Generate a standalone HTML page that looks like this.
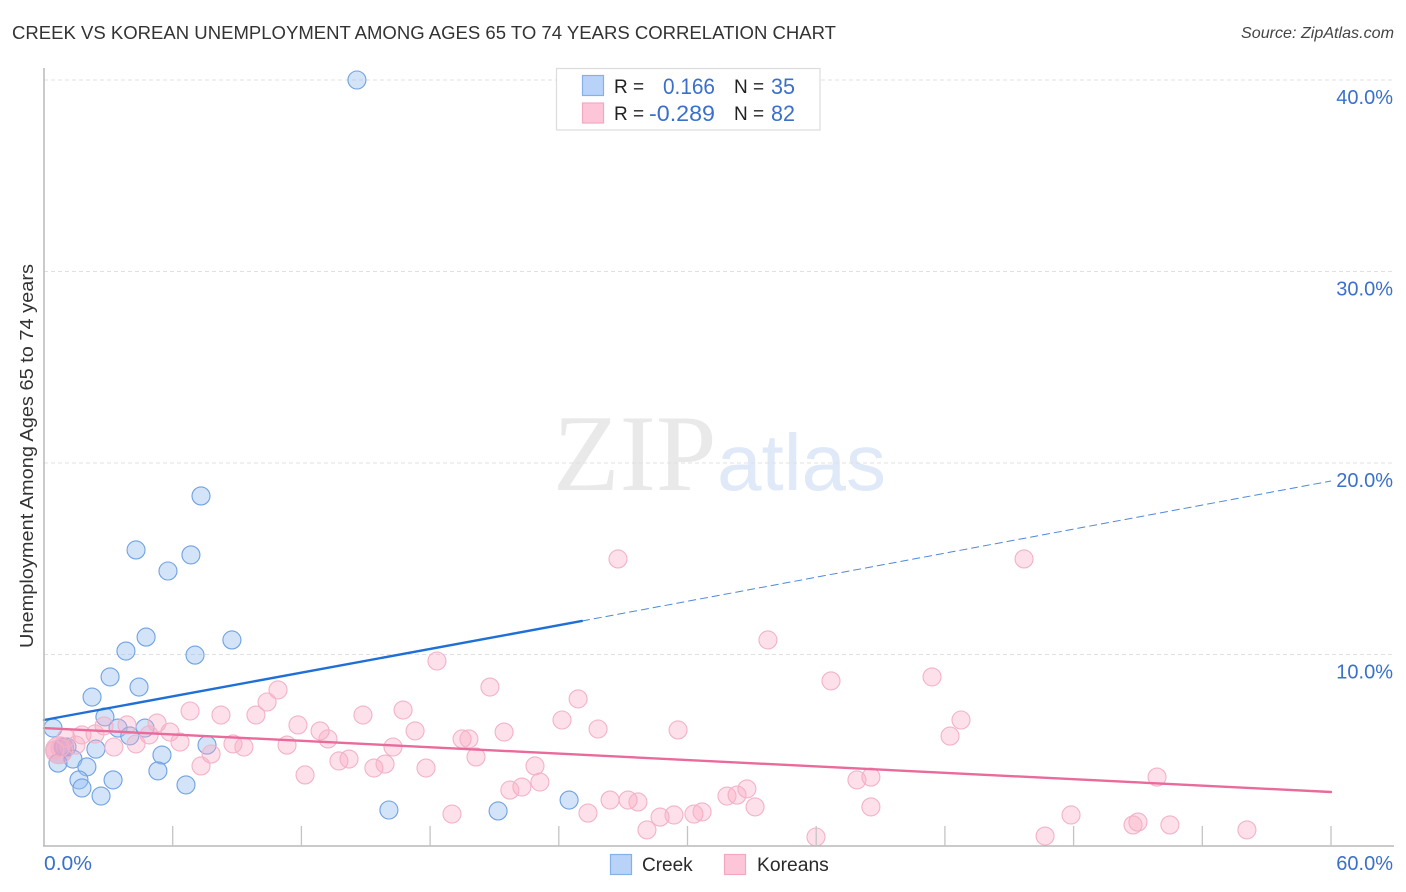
<!DOCTYPE html>
<html lang="en">
<head>
<meta charset="utf-8">
<title>Creek vs Korean Unemployment Correlation Chart</title>
<style>
html,body{margin:0;padding:0;background:#fff;}
body{width:1406px;height:892px;overflow:hidden;}
svg{display:block;font-family:"Liberation Sans",sans-serif;}
</style>
</head>
<body>
<svg id="chart" xmlns="http://www.w3.org/2000/svg" width="1406" height="892" viewBox="0 0 1406 892">
  <text x="12" y="39" font-size="18" fill="#333" textLength="824" lengthAdjust="spacingAndGlyphs">CREEK VS KOREAN UNEMPLOYMENT AMONG AGES 65 TO 74 YEARS CORRELATION CHART</text>
  <text x="1394" y="38" font-size="16" font-style="italic" fill="#444" text-anchor="end" textLength="153" lengthAdjust="spacingAndGlyphs">Source: ZipAtlas.com</text>
  <g id="watermark">
    <text x="553" y="490" font-family="'Liberation Serif',serif" font-size="109" fill="#e9e9e9">ZIP</text>
    <text x="717" y="490" font-size="80" fill="#dfe9f7">atlas</text>
  </g>
  <g id="grid"></g>
  <g id="creek-points"></g>
  <g id="korean-points"></g>
  <g id="trends"></g>
  <g id="axes"></g>
  <g id="tick-labels"></g>
  <text transform="translate(33,456) rotate(-90)" font-size="18.5" fill="#333" text-anchor="middle" textLength="384" lengthAdjust="spacingAndGlyphs">Unemployment Among Ages 65 to 74 years</text>

  <g>
    <rect x="556.5" y="68.5" width="263.5" height="61.5" fill="#fff" stroke="#dcdcdc" stroke-width="1.2"/>
    <rect x="582.5" y="75.5" width="21" height="20" fill="#b9d3f8" stroke="#86b0ea" stroke-width="1.2"/>
    <text x="614" y="93" font-size="19" fill="#222">R =</text>
    <text x="715" y="94" font-size="22" fill="#3a70cc" text-anchor="end" textLength="52" lengthAdjust="spacingAndGlyphs">0.166</text>
    <text x="734" y="93" font-size="19" fill="#222">N =</text>
    <text x="771" y="94" font-size="22" fill="#3a70cc" textLength="24" lengthAdjust="spacingAndGlyphs">35</text>
    <rect x="582.5" y="103" width="21" height="20" fill="#fdc6d8" stroke="#f3a8c1" stroke-width="1.2"/>
    <text x="614" y="120" font-size="19" fill="#222">R =</text>
    <text x="715" y="121" font-size="22" fill="#3a70cc" text-anchor="end" textLength="66" lengthAdjust="spacingAndGlyphs">-0.289</text>
    <text x="734" y="120" font-size="19" fill="#222">N =</text>
    <text x="771" y="121" font-size="22" fill="#3a70cc" textLength="24" lengthAdjust="spacingAndGlyphs">82</text>
  </g>

  <g>
    <rect x="610.5" y="854.5" width="21" height="20" fill="#b9d3f8" stroke="#86b0ea" stroke-width="1.2"/>
    <text x="642" y="871" font-size="19" fill="#2a2a2a">Creek</text>
    <rect x="724.5" y="854.5" width="21" height="20" fill="#fdc6d8" stroke="#f3a8c1" stroke-width="1.2"/>
    <text x="757" y="871" font-size="19.3" fill="#2a2a2a">Koreans</text>
  </g>
</svg>
<script>
var creekX = [14.59,7.32,4.29,6.85,5.78,4.76,8.76,3.82,7.04,3.08,4.43,2.24,2.84,0.42,3.45,4.71,4.0,7.6,0.95,0.89,1.07,2.42,5.5,1.35,0.65,2.0,5.31,1.63,3.22,6.62,1.77,2.66,16.08,21.17,24.48];
var creekY = [40.0,18.28,15.46,15.2,14.36,10.91,10.76,10.18,9.97,8.83,8.3,7.78,6.74,6.16,6.16,6.16,5.75,5.27,5.17,5.17,5.17,5.06,4.75,4.54,4.33,4.13,3.92,3.45,3.45,3.19,3.03,2.61,1.88,1.83,2.4];
var koreanX = [26.76,45.69,33.75,18.32,20.79,10.91,36.69,41.40,24.90,10.40,6.81,16.74,8.25,9.88,14.87,24.15,42.75,3.87,11.84,5.27,2.80,17.30,25.83,29.56,21.45,12.87,5.87,2.38,1.77,4.90,6.34,13.24,42.24,19.49,19.81,8.81,11.33,4.29,3.26,9.32,16.27,1.49,1.03,0.75,0.51,7.79,20.14,13.75,14.22,7.32,15.38,15.90,17.81,22.89,12.17,38.55,37.90,51.89,32.77,23.12,22.28,21.72,32.31,31.84,33.15,26.39,27.23,27.69,38.55,25.36,19.02,28.72,29.37,30.30,30.68,47.88,51.0,50.77,52.49,28.11,56.08,35.99,46.67];
var koreanY = [14.99,14.99,10.76,9.66,8.30,8.15,8.62,8.83,7.68,7.52,7.05,7.10,6.84,6.84,6.84,6.58,6.58,6.32,6.32,6.42,6.27,6.01,6.11,6.06,5.95,6.01,5.95,5.85,5.80,5.80,5.43,5.59,5.74,5.59,5.59,5.33,5.27,5.33,5.17,5.17,5.17,5.27,5.64,5.12,5.01,4.80,4.65,4.44,4.54,4.18,4.07,4.28,4.07,4.18,3.71,3.60,3.45,3.60,2.98,3.34,3.08,2.92,2.66,2.61,2.04,2.40,2.40,2.30,2.04,1.72,1.67,1.51,1.62,1.67,1.78,1.62,1.25,1.10,1.10,0.84,0.84,0.47,0.52];
var koreanBubbleX = [0.7];
var koreanBubbleY = [5.0];
var creekTrendX = [0,25.08,60];
var creekTrendY = [6.58,11.75,19.06];
var koreanTrendX = [0,60];
var koreanTrendY = [6.16,2.82];
var xTickValues = [6,12,18,24,30,36,42,48,54,60];
var xEndLabels = ["0.0%","60.0%"];
var yTickValues = [10,20,30,40];
var yTickLabels = ["10.0%","20.0%","30.0%","40.0%"];

var NS = "http://www.w3.org/2000/svg";
function sx(v){ return 44 + v * 21.45; }
function sy(v){ return 846 - v * 19.15; }
function mk(tag, parentId, attrs){
  var el = document.createElementNS(NS, tag);
  for (var k in attrs) el.setAttribute(k, attrs[k]);
  document.getElementById(parentId).appendChild(el);
  return el;
}

yTickValues.forEach(function(v, i){
  var g = mk("line", "grid", {x1:44, x2:1394, y1:sy(v), y2:sy(v), stroke:"#e0e0e0", "stroke-width":1, "stroke-dasharray":"4 3"});
  
  
  var t = mk("text", "tick-labels", {x:1393, y:sy(v)+24, "font-size":20, fill:"#3a70cc", "text-anchor":"end"});
  t.textContent = yTickLabels[i];
  
  
});

creekX.forEach(function(v, i){
  var c = mk("circle", "creek-points", {cx:sx(v), cy:sy(creekY[i]), r:9, fill:"rgba(150,190,240,0.42)", stroke:"#6fa1e2", "stroke-width":1.1});
  
  
});

koreanBubbleX.forEach(function(v, i){
  var c = mk("circle", "korean-points", {cx:sx(v), cy:sy(koreanBubbleY[i]), r:13.5, fill:"rgba(238,150,190,0.5)", stroke:"#f3b0c8", "stroke-width":1});
  
  
});

koreanX.forEach(function(v, i){
  var c = mk("circle", "korean-points", {cx:sx(v), cy:sy(koreanY[i]), r:9, fill:"rgba(250,170,195,0.36)", stroke:"#f3b2c8", "stroke-width":1.1});
  
  
});

var creekSolid = mk("line", "trends", {x1:sx(creekTrendX[0]), y1:sy(creekTrendY[0]), x2:sx(creekTrendX[1]), y2:sy(creekTrendY[1]), stroke:"#1f6fd6", "stroke-width":2.4, "stroke-linecap":"round"});


var creekDash = mk("line", "trends", {x1:sx(creekTrendX[1]), y1:sy(creekTrendY[1]), x2:sx(creekTrendX[2]), y2:sy(creekTrendY[2]), stroke:"#4f88d8", "stroke-width":1, "stroke-dasharray":"8 4"});


var koreanTrend = mk("line", "trends", {x1:sx(koreanTrendX[0]), y1:sy(koreanTrendY[0]), x2:sx(koreanTrendX[1]), y2:sy(koreanTrendY[1]), stroke:"#e96a9b", "stroke-width":2.4, "stroke-linecap":"round"});



var yAxis = mk("line", "axes", {x1:44, x2:44, y1:68, y2:846, stroke:"#b8b8b8", "stroke-width":1.5});


var xAxis = mk("line", "axes", {x1:43, x2:1394, y1:846, y2:846, stroke:"#b8b8b8", "stroke-width":1.5});


xTickValues.forEach(function(v){
  var t = mk("line", "axes", {x1:sx(v), x2:sx(v), y1:826, y2:846, stroke:"#c4c4c4", "stroke-width":1.3});
  
  
});

var x0 = mk("text", "tick-labels", {x:44, y:870, "font-size":20, fill:"#3a70cc", textLength:48, lengthAdjust:"spacingAndGlyphs"});
x0.textContent = xEndLabels[0];


var x1 = mk("text", "tick-labels", {x:1393, y:870, "font-size":20, fill:"#3a70cc", "text-anchor":"end"});
x1.textContent = xEndLabels[1];


</script>
</body>
</html>
